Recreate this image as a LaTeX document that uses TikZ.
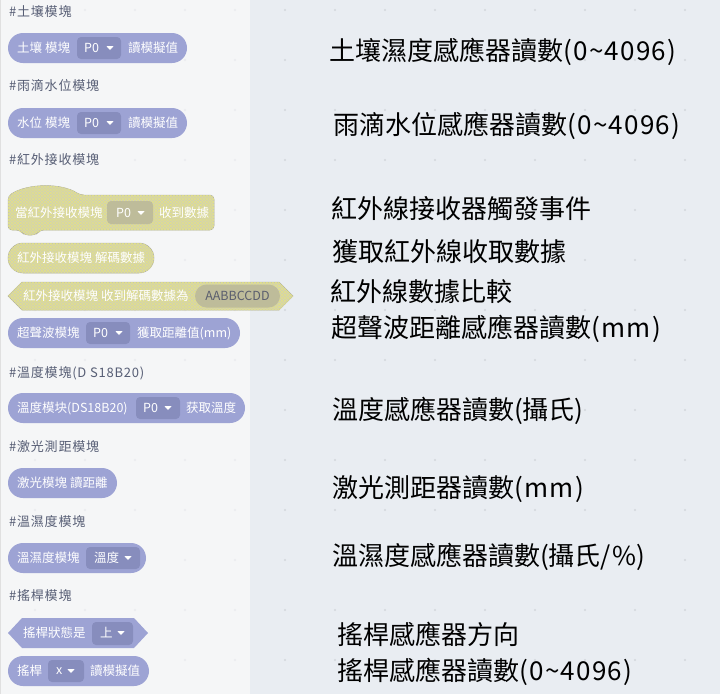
\documentclass[tikz,border=0pt]{standalone}
\usepackage{fontspec}
\newfontfamily\cjk{Noto Sans CJK TC}
\usetikzlibrary{patterns}
\definecolor{panelbg}{HTML}{F5F6F7}
\definecolor{workbg}{HTML}{E9EDF2}
\definecolor{gridpt}{HTML}{D2D6DC}
\definecolor{headgray}{HTML}{575E75}
\definecolor{blkpurple}{HTML}{9DA3D4}
\definecolor{droppurple}{HTML}{878DBD}
\definecolor{irbase}{HTML}{D0CFB6}
\definecolor{irline}{HTML}{E2E18A}
\definecolor{irdrop}{HTML}{BEBC9A}
\definecolor{irlabel}{HTML}{5A5E6E}
\def\caret(#1,#2){\fill[white] (#1-3.5,#2-1.8) -- (#1+3.5,#2-1.8) -- (#1,#2+2) -- cycle;}
\def\lat#1{{\addfontfeatures{LetterSpace=5}#1}}
\tikzset{
  header/.style={font=\cjk\fontsize{13}{15}\selectfont\addfontfeatures{LetterSpace=6}, text=headgray, anchor=west, inner sep=0},
  blocktxt/.style={font=\cjk\fontsize{12.5}{14}\selectfont, text=white, anchor=west, inner sep=0},
  desc/.style={font=\cjk\fontsize{26}{30}\selectfont, text=black, anchor=west, inner sep=0},
  pill/.style={fill=blkpurple, rounded corners=15pt},
  hexblk/.style={fill=blkpurple},
  dropbox/.style={fill=droppurple, rounded corners=4pt},
  irblk/.style={fill=irbase, draw=irbase!85!black, line width=0.5pt,
    postaction={pattern=north east lines, pattern color=irline},
    postaction={pattern=north west lines, pattern color=irline}},
  irdropbox/.style={fill=irdrop, rounded corners=4pt}
}

\begin{document}
\begin{tikzpicture}[x=1pt, y=-1pt]
		%%%%% START %%%%%
		\useasboundingbox (0,0) rectangle (720,694);
		\fill[workbg] (0,0) rectangle (720,694);
		\fill[panelbg] (0,0) rectangle (250,694);
		\draw[line width=1pt, color=black!12] (0.5,0) -- (0.5,694);
		\foreach \gx in {285,335,...,685} \foreach \gy in {10,60,...,660} \fill[gridpt] (\gx,\gy) circle (1.1pt);
		\foreach \gx in {35,85,...,235} \foreach \gy in {10,60,...,660} \fill[gridpt!35!panelbg] (\gx,\gy) circle (1.1pt);
		
		% soil
		\node[header] (soilhead) at (9,12) {\#土壤模塊};
		\fill[pill] (8,33) rectangle (187,63);
		\node[blocktxt] (soilname) at (17,48) {土壤 模塊};
		\fill[dropbox] (77,37) rectangle (121,59);
		\node[blocktxt] (soilpin) at (84,48) {P0};
		\caret(110,48)
		\node[blocktxt] (soilread) at (128,48) {讀模擬值};
		\node[desc] (soildesc) at (329,52) {土壤濕度感應器讀數\lat{(0\textasciitilde4096)}};
		
		% rain
		\node[header] (rainhead) at (9,86) {\#雨滴水位模塊};
		\fill[pill] (8,108) rectangle (187,138);
		\node[blocktxt] (rainname) at (17,123) {水位 模塊};
		\fill[dropbox] (77,112) rectangle (121,134);
		\node[blocktxt] (rainpin) at (84,123) {P0};
		\caret(110,123)
		\node[blocktxt] (rainread) at (128,123) {讀模擬值};
		\node[desc] (raindesc) at (333,126) {雨滴水位感應器讀數\lat{(0\textasciitilde4096)}};
		
		% infrared
		\node[header] (irhead) at (9,160) {\#紅外接收模塊};
		\draw[irblk, rounded corners=4pt] (8,230) -- (8,196) .. controls (28,183) and (62,183) .. (80,195) -- (214,195) -- (214,230) -- (40,230) -- (36,235) -- (24,235) -- (20,230) -- cycle;
		\node[blocktxt] (irwhen) at (15,213) {當紅外接收模塊};
		\fill[irdropbox] (107,201) rectangle (153,224);
		\node[blocktxt] (irpin) at (116,213) {P0};
		\caret(141,213)
		\node[blocktxt] (irgot) at (159,213) {收到數據};
		\node[desc] (irevent) at (331,209) {紅外線接收器觸發事件};
		
		\draw[irblk, rounded corners=15pt] (8,243) rectangle (154,273);
		\node[blocktxt] (irdecode) at (17,258) {紅外接收模塊 解碼數據};
		\node[desc] (irfetch) at (332,252) {獲取紅外線收取數據};
		
		\draw[irblk] (8,296) -- (22,282) -- (279,282) -- (293,296) -- (279,310) -- (22,310) -- cycle;
		\node[blocktxt] (ircmp) at (23,296) {紅外接收模塊 收到解碼數據為};
		\fill[irdrop, rounded corners=11.5pt] (195,284.5) rectangle (280,307.5);
		\node[font=\cjk\fontsize{12.5}{14}\selectfont, text=irlabel, inner sep=0] (ircode) at (237.5,296) {AABBCCDD};
		\node[desc] (ircmpdesc) at (330,292) {紅外線數據比較};
		
		% ultrasonic
		\fill[pill] (8,318) rectangle (240,348);
		\node[blocktxt] (usname) at (17,333) {超聲波模塊};
		\fill[dropbox] (86,322) rectangle (130,344);
		\node[blocktxt] (uspin) at (93,333) {P0};
		\caret(119,333)
		\node[blocktxt] (usread) at (137,333) {獲取距離值(mm)};
		\node[desc] (usdesc) at (331,329) {超聲波距離感應器讀數\lat{(mm)}};
		
		% temperature
		\node[header] (temphead) at (9,373) {\#溫度模塊(D S18B20)};
		\fill[pill] (8,393) rectangle (245,423);
		\node[blocktxt] (tempname) at (17,408) {溫度模块(DS18B20)};
		\fill[dropbox] (136,397) rectangle (180,419);
		\node[blocktxt] (temppin) at (143,408) {P0};
		\caret(168,408)
		\node[blocktxt] (tempread) at (186,408) {获取溫度};
		\node[desc] (tempdesc) at (332,411) {溫度感應器讀數(攝氏)};
		
		% laser
		\node[header] (laserhead) at (9,447) {\#激光測距模塊};
		\fill[pill] (8,468) rectangle (117,498);
		\node[blocktxt] (laserread) at (17,483) {激光模塊 讀距離};
		\node[desc] (laserdesc) at (332,489) {激光測距器讀數\lat{(mm)}};
		
		% humidity
		\node[header] (thhead) at (9,522) {\#溫濕度模塊};
		\fill[pill] (8,543) rectangle (146,573);
		\node[blocktxt] (thname) at (17,558) {溫濕度模塊};
		\fill[dropbox] (86,547) rectangle (140,569);
		\node[blocktxt] (thpick) at (94,558) {溫度};
		\caret(128,558)
		\node[desc] (thdesc) at (332,557) {溫濕度感應器讀數(攝氏\lat{/\%})};
		
		% joystick
		\node[header] (joyhead) at (9,596) {\#搖桿模塊};
		\fill[hexblk] (8,633) -- (22,618) -- (134,618) -- (148,633) -- (134,648) -- (22,648) -- cycle;
		\node[blocktxt] (joystate) at (23,633) {搖桿狀態是};
		\fill[dropbox] (92,622) rectangle (133,645);
		\node[blocktxt] (joydir) at (100,633) {上};
		\caret(121,633)
		\node[desc] (joydirdesc) at (337,634) {搖桿感應器方向};
		
		\fill[pill] (8,656) rectangle (149,686);
		\node[blocktxt] (joyname) at (17,671) {搖桿};
		\fill[dropbox] (48,660) rectangle (84,682);
		\node[blocktxt] (joyaxis) at (56,671) {x};
		\caret(71,671)
		\node[blocktxt] (joyread) at (90,671) {讀模擬值};
		\node[desc] (joydesc) at (337,672) {搖桿感應器讀數\lat{(0\textasciitilde4096)}};
		%%%%% END %%%%%
\end{tikzpicture}
\end{document}
